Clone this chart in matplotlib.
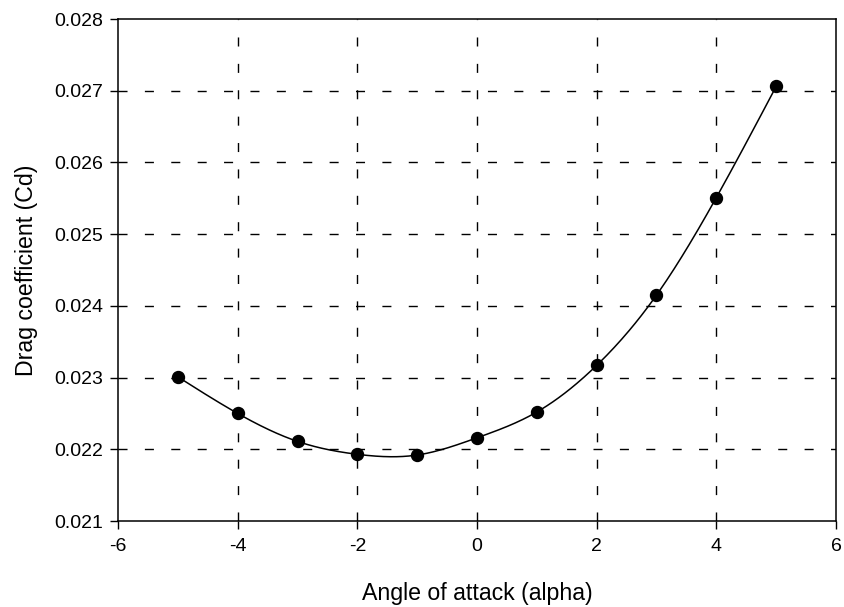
import numpy as np
import matplotlib
matplotlib.use('Agg')
import matplotlib.pyplot as plt

# ── Data ───────────────────────────────────────────────────────────────────────
alpha = [-5, -4, -3, -2, -1, 0, 1, 2, 3, 4, 5]
cd    = [0.02301, 0.02250, 0.02211, 0.02193, 0.02192, 0.02216,
         0.02252, 0.02317, 0.02415, 0.02551, 0.02706]

x_ticks = [-6, -4, -2, 0, 2, 4, 6]
y_ticks = [0.021, 0.022, 0.023, 0.024, 0.025, 0.026, 0.027, 0.028]


def natural_spline(x, y, n=400):
    """Natural cubic spline for the smooth line through the points."""
    x = np.asarray(x, float)
    y = np.asarray(y, float)
    k = len(x)
    h = np.diff(x)
    A = np.zeros((k, k))
    b = np.zeros(k)
    A[0, 0] = A[-1, -1] = 1
    for i in range(1, k - 1):
        A[i, i - 1] = h[i - 1]
        A[i, i] = 2 * (h[i - 1] + h[i])
        A[i, i + 1] = h[i]
        b[i] = 6 * ((y[i + 1] - y[i]) / h[i] - (y[i] - y[i - 1]) / h[i - 1])
    m = np.linalg.solve(A, b)
    xs = np.linspace(x[0], x[-1], n)
    idx = np.clip(np.searchsorted(x, xs) - 1, 0, k - 2)
    t0 = xs - x[idx]
    t1 = x[idx + 1] - xs
    hh = h[idx]
    ys = (m[idx] * t1**3 / (6 * hh) + m[idx + 1] * t0**3 / (6 * hh)
          + (y[idx] / hh - m[idx] * hh / 6) * t1
          + (y[idx + 1] / hh - m[idx + 1] * hh / 6) * t0)
    return xs, ys


plt.rcParams['font.family'] = ['Liberation Sans', 'DejaVu Sans']

fig = plt.figure(figsize=(8.44, 6.07), dpi=100)
ax = fig.add_axes([118 / 844, 1 - 521 / 607, (836 - 118) / 844, (521 - 19) / 607])

xs, ys = natural_spline(alpha, cd)
ax.plot(xs, ys, color='black', linewidth=1.1, zorder=3)
ax.plot(alpha, cd, 'o', color='black', markersize=8.6, zorder=4)

ax.set_xlim(-6, 6)
ax.set_ylim(0.021, 0.028)
ax.set_xticks(x_ticks)
ax.set_yticks(y_ticks)
ax.set_xticklabels([str(v) for v in x_ticks])
ax.set_yticklabels([f'{v:.3f}' for v in y_ticks])

ax.grid(True, color='black', linestyle=(0, (6.5, 12.5)), linewidth=1.0)
ax.set_axisbelow(True)
# no gridlines on the frame edges
for gl in (ax.xaxis.get_gridlines()[0], ax.xaxis.get_gridlines()[-1],
           ax.yaxis.get_gridlines()[0], ax.yaxis.get_gridlines()[-1]):
    gl.set_visible(False)

ax.tick_params(direction='out', length=5.5, width=1, labelsize=14, color='black')
ax.tick_params(axis='x', pad=7)
ax.tick_params(axis='y', pad=5)
for s in ax.spines.values():
    s.set_linewidth(1.1)

ax.set_xlabel('Angle of attack (alpha)', fontsize=16.7, labelpad=19)
ax.set_ylabel('Drag coefficient (Cd)', fontsize=16.7, labelpad=12)

plt.savefig('out.png', dpi=100)
